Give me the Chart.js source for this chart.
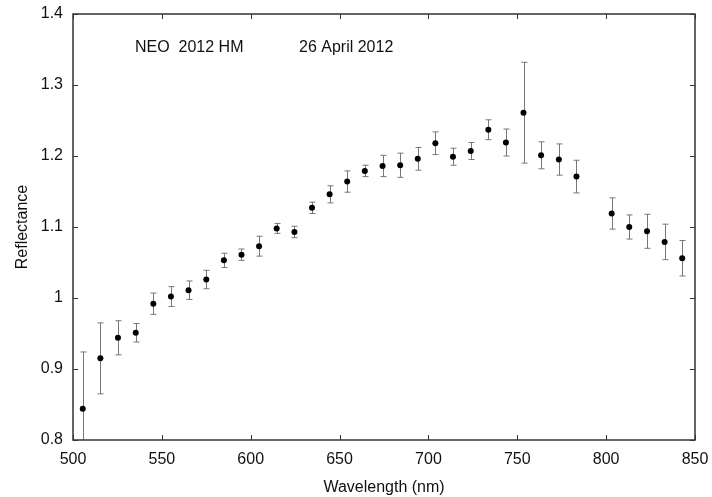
<!DOCTYPE html>
<html>
<head>
<meta charset="utf-8">
<title>NEO 2012 HM reflectance</title>
<script src="https://cdn.jsdelivr.net/npm/chart.js@4/dist/chart.umd.min.js"></script>
<style>
  html, body { margin: 0; padding: 0; background: #fff; }
  #wrap { width: 712px; height: 497px; }
</style>
</head>
<body>
<div id="wrap"><canvas id="spectre" width="712" height="497"></canvas></div>
<script>
// spectre de reflectance, 26 avril 2012
const wavelengths = [505.5, 515.4, 525.3, 535.3, 545.2, 555.1, 565.0, 575.0, 584.9, 594.8,
  604.7, 614.6, 624.6, 634.5, 644.4, 654.3, 664.2, 674.2, 684.1, 694.0,
  703.9, 713.8, 723.8, 733.7, 743.6, 753.5, 763.4, 773.4, 783.3,
  803.1, 813.0, 823.0, 832.9, 842.8];
const reflectance = [0.844, 0.915, 0.944, 0.951, 0.992, 1.002, 1.011, 1.026, 1.053, 1.061,
  1.073, 1.098, 1.093, 1.127, 1.146, 1.164, 1.179, 1.186, 1.187, 1.196,
  1.218, 1.199, 1.207, 1.237, 1.219, 1.261, 1.201, 1.195, 1.171,
  1.119, 1.100, 1.094, 1.079, 1.056];
const errors = [0.080, 0.050, 0.024, 0.013, 0.015, 0.014, 0.013, 0.013, 0.010, 0.008,
  0.014, 0.007, 0.008, 0.008, 0.012, 0.015, 0.008, 0.015, 0.017, 0.016,
  0.016, 0.012, 0.012, 0.014, 0.019, 0.071, 0.019, 0.022, 0.023,
  0.022, 0.017, 0.024, 0.025, 0.025];

const xTicks = [500, 550, 600, 650, 700, 750, 800, 850];
const xTickLabels = ['500', '550', '600', '650', '700', '750', '800', '850'];
const yTicks = [0.8, 0.9, 1.0, 1.1, 1.2, 1.3, 1.4];
const yTickLabels = ['0.8', '0.9', '1', '1.1', '1.2', '1.3', '1.4'];

const objectName = 'NEO  2012 HM';
const obsDate = '26 April 2012';

Chart.defaults.font.family = '"Liberation Sans", Arial, Helvetica, sans-serif';
Chart.defaults.color = '#111';

// barres d'erreur, dessinees avant les points
const errorBars = {
  id: 'errorBars',
  beforeDatasetsDraw(chart) {
    const { ctx, chartArea, scales: { x, y } } = chart;
    ctx.save();
    ctx.beginPath();
    ctx.rect(chartArea.left, chartArea.top, chartArea.right - chartArea.left, chartArea.bottom - chartArea.top);
    ctx.clip();
    ctx.strokeStyle = '#777';
    ctx.lineWidth = 1;
    wavelengths.forEach((w, i) => {
      const px = Math.round(x.getPixelForValue(w)) + 0.5;
      const top = y.getPixelForValue(reflectance[i] + errors[i]);
      const bot = y.getPixelForValue(reflectance[i] - errors[i]);
      ctx.beginPath();
      ctx.moveTo(px, top); ctx.lineTo(px, bot);
      ctx.moveTo(px - 3, top); ctx.lineTo(px + 3, top);
      ctx.moveTo(px - 3, bot); ctx.lineTo(px + 3, bot);
      ctx.stroke();
    });
    ctx.restore();
  }
};

// cadre + graduations vers l'interieur sur les 4 cotes
const frame = {
  id: 'frame',
  afterDatasetsDraw(chart) {
    const { ctx, chartArea: a, scales: { x, y } } = chart;
    ctx.save();
    ctx.strokeStyle = '#333';
    ctx.lineWidth = 1.5;
    ctx.strokeRect(a.left, a.top, a.right - a.left, a.bottom - a.top);
    ctx.lineWidth = 1;
    ctx.beginPath();
    xTicks.forEach(v => {
      const px = Math.round(x.getPixelForValue(v)) + 0.5;
      ctx.moveTo(px, a.bottom); ctx.lineTo(px, a.bottom - 5);
      ctx.moveTo(px, a.top); ctx.lineTo(px, a.top + 5);
    });
    yTicks.forEach(v => {
      const py = Math.round(y.getPixelForValue(v)) + 0.5;
      ctx.moveTo(a.left, py); ctx.lineTo(a.left + 5, py);
      ctx.moveTo(a.right, py); ctx.lineTo(a.right - 5, py);
    });
    ctx.stroke();

    ctx.fillStyle = '#111';
    ctx.font = '16px "Liberation Sans", Arial, sans-serif';
    ctx.textBaseline = 'middle';
    ctx.fillText(objectName, 135, 48);
    ctx.fillText(obsDate, 299, 48);
    ctx.restore();
  }
};

const ctx = document.getElementById('spectre').getContext('2d');
new Chart(ctx, {
  type: 'scatter',
  data: {
    datasets: [{
      label: 'Reflectance',
      data: wavelengths.map((w, i) => ({ x: w, y: reflectance[i] })),
      pointRadius: 3,
      pointBackgroundColor: '#000',
      pointBorderWidth: 0,
      showLine: false
    }]
  },
  options: {
    responsive: false,
    animation: false,
    layout: { padding: { top: 14, right: 17, left: 0, bottom: 0 } },
    plugins: { legend: { display: false }, tooltip: { enabled: false } },
    scales: {
      x: {
        type: 'linear',
        min: 500, max: 850,
        afterBuildTicks: s => { s.ticks = xTicks.map(v => ({ value: v })); },
        afterFit: s => { s.height = 57; s.paddingLeft = 0; s.paddingRight = 0; },
        ticks: {
          font: { size: 16 },
          padding: 10,
          maxRotation: 0,
          callback: (v, i) => xTickLabels[i]
        },
        grid: { drawOnChartArea: false, drawTicks: false },
        border: { display: false },
        title: {
          display: true,
          text: 'Wavelength (nm)',
          font: { size: 16 },
          padding: { top: 0, bottom: 0 }
        }
      },
      y: {
        type: 'linear',
        min: 0.8, max: 1.4,
        afterBuildTicks: s => { s.ticks = yTicks.map(v => ({ value: v })); },
        afterFit: s => { s.width = 73; s.paddingTop = 0; s.paddingBottom = 0; },
        ticks: {
          font: { size: 16 },
          padding: 10,
          callback: (v, i) => yTickLabels[i]
        },
        grid: { drawOnChartArea: false, drawTicks: false },
        border: { display: false },
        title: {
          display: true,
          text: 'Reflectance',
          font: { size: 16 },
          padding: { top: 13, bottom: 0 }
        }
      }
    }
  },
  plugins: [errorBars, frame]
});
</script>
</body>
</html>
